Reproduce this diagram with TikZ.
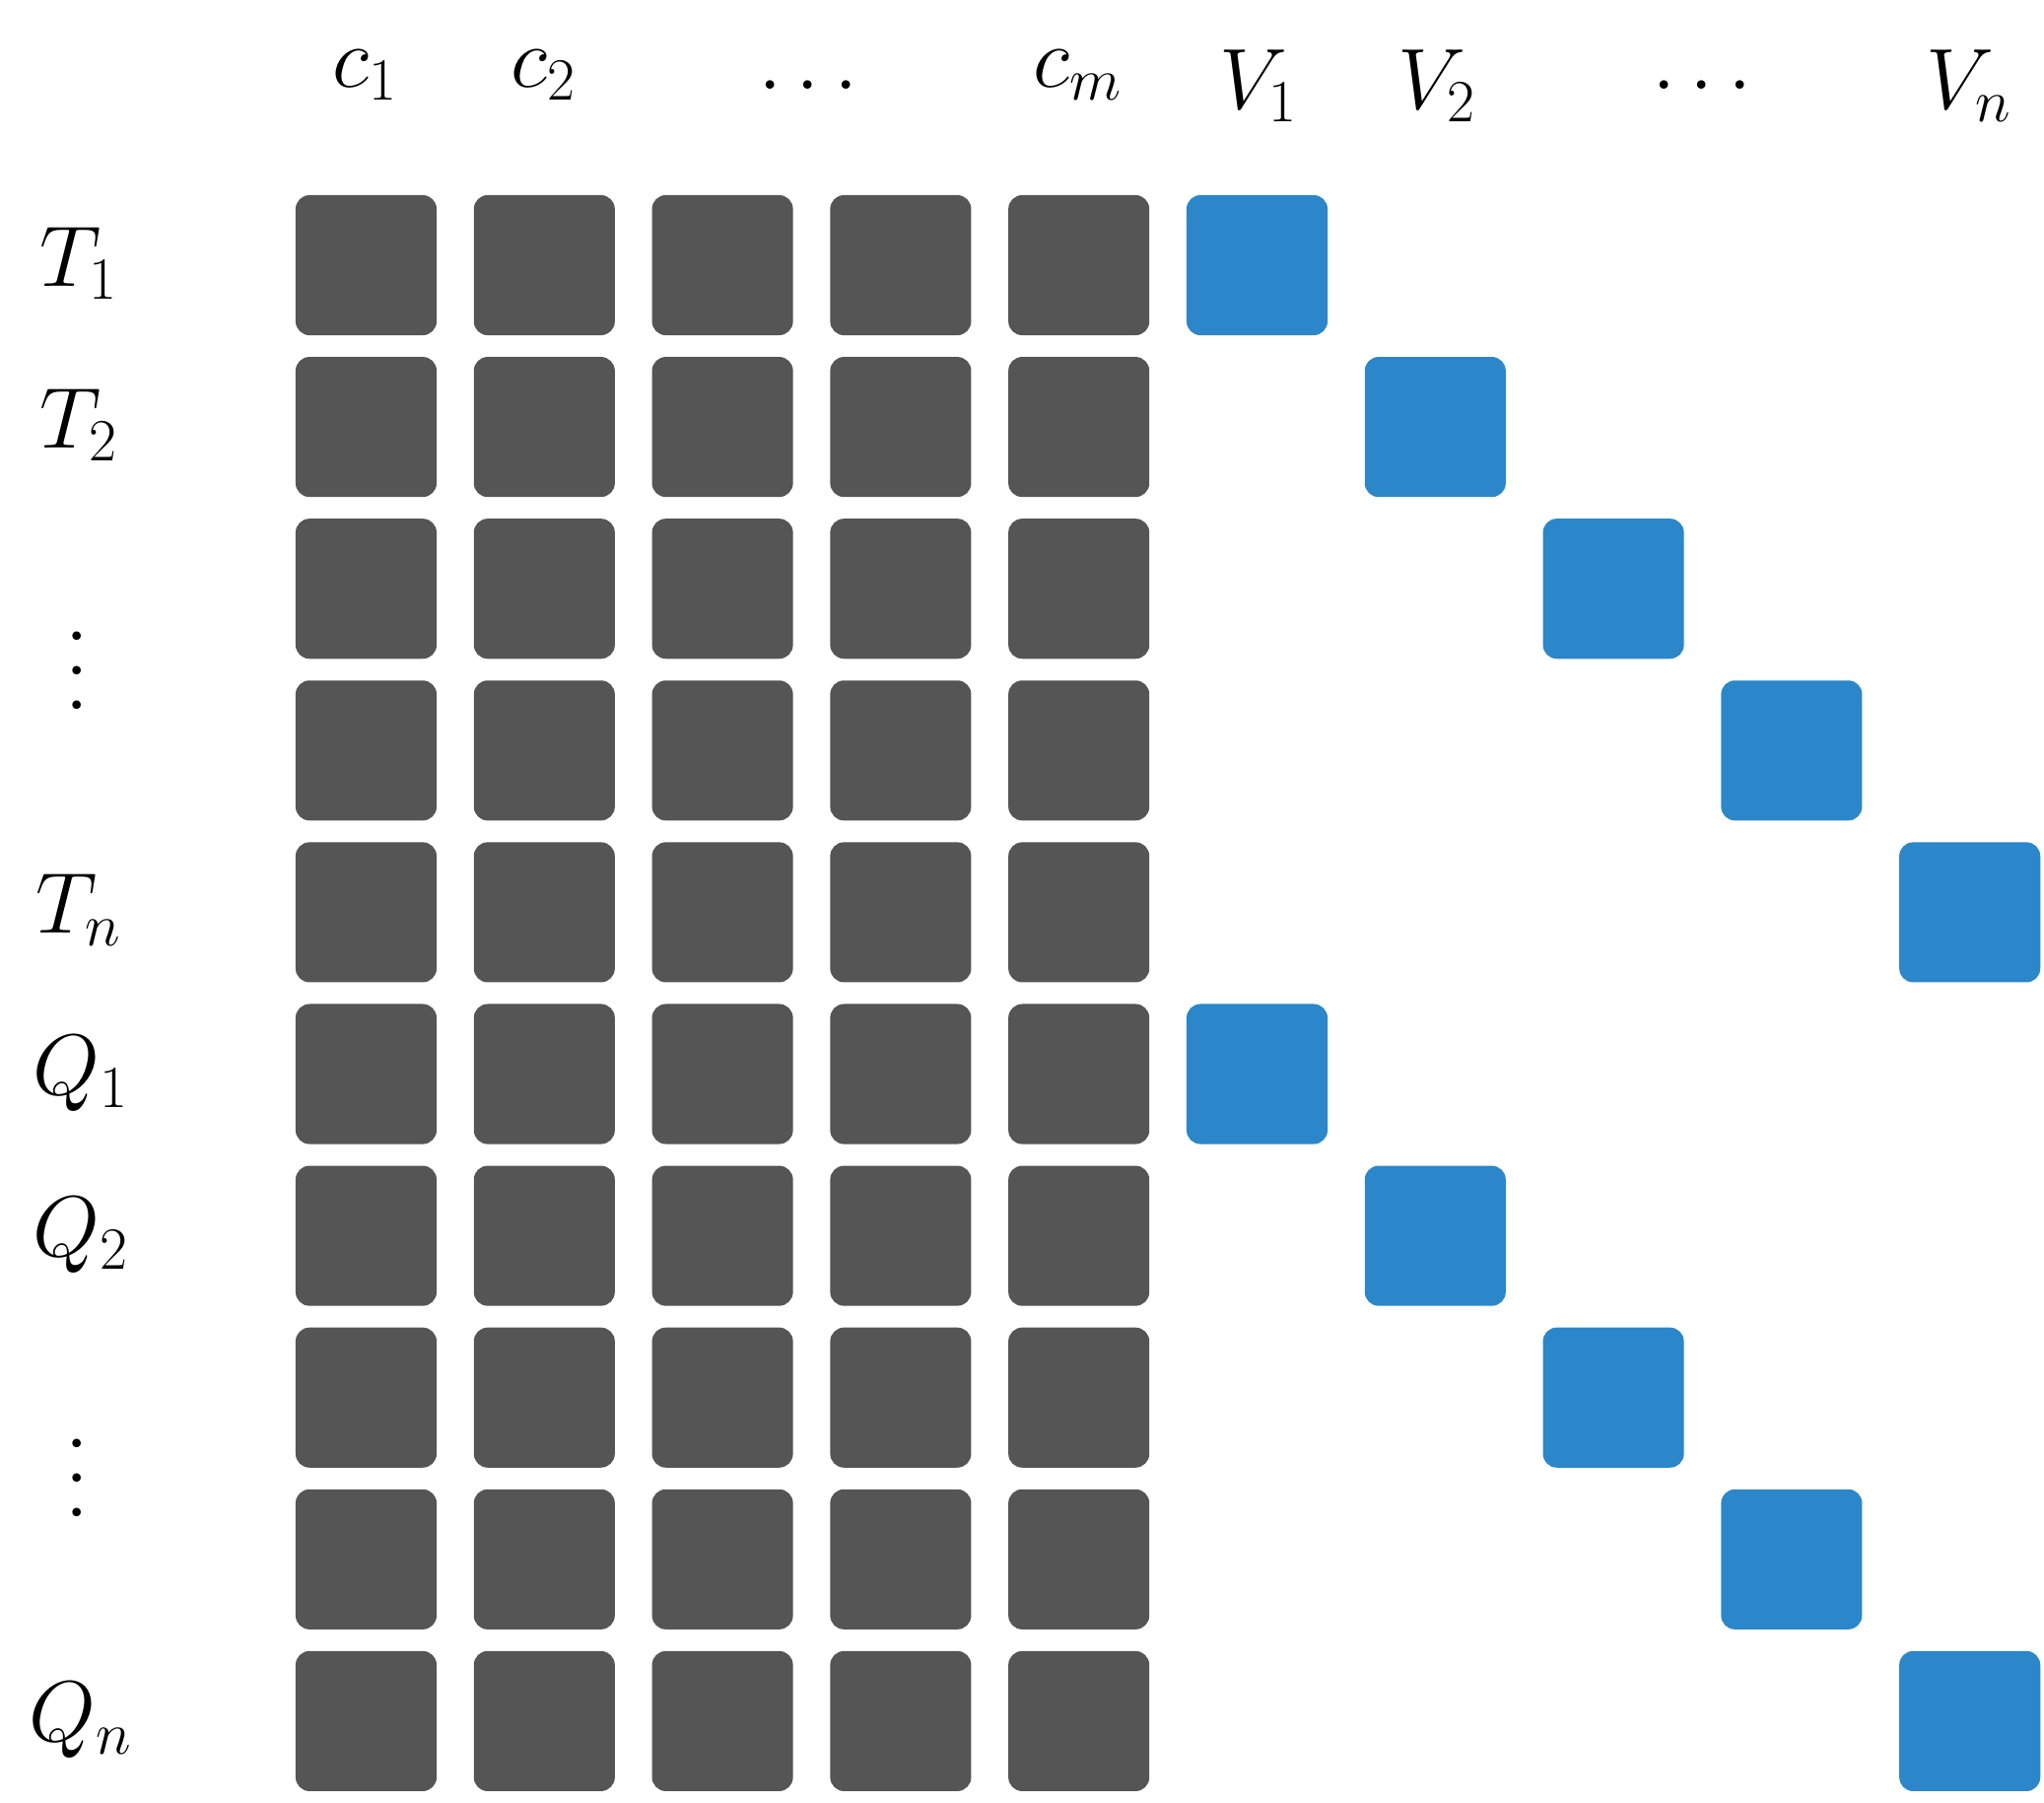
\documentclass[tikz,border=0pt]{standalone}
\definecolor{cellgray}{HTML}{555555}
\definecolor{cellblue}{HTML}{2B87C9}
\newcommand{\dotrow}[1]{.\kern#1.\kern#1.}
\begin{document}
\begin{tikzpicture}[x=0.01cm, y=-0.01cm,
  font=\fontsize{27}{32}\selectfont,
  cell/.style={rounded corners=4pt, minimum width=1.43cm,
               minimum height=1.42cm, inner sep=0pt, fill=#1},
  lbl/.style={anchor=base, inner sep=0pt},
  dots/.style={inner sep=0pt, font=\fontsize{30}{36}\selectfont}
]
  \useasboundingbox (0,0) rectangle (2074,1829);

  % column headers
  \node[lbl] (hc1) at (371,88) {$c_1$};
  \node[lbl] (hc2) at (552,88) {$c_2$};
  \node[lbl, dots, anchor=base] (hcd) at (820,90) {\dotrow{3.5pt}};
  \node[lbl] (hcm) at (1094,88) {$c_m$};
  \node[lbl] (hv1) at (1277,110) {$V_1$};
  \node[lbl] (hv2) at (1458,110) {$V_2$};
  \node[lbl, dots, anchor=base] (hvd) at (1727,90) {\dotrow{3.5pt}};
  \node[lbl] (hvn) at (1998,110) {$V_n$};

  % row headers
  \node[lbl] (rt1) at (80,290) {$T_1$};
  \node[lbl] (rt2) at (80,454) {$T_2$};
  \node[dots] (rtd) at (78,680) {\rotatebox{90}{\dotrow{2.5pt}}};
  \node[lbl] (rtn) at (80,946) {$T_n$};
  \node[lbl] (rq1) at (82,1110) {$Q_1$};
  \node[lbl] (rq2) at (82,1274) {$Q_2$};
  \node[dots] (rqd) at (78,1499) {\rotatebox{90}{\dotrow{2.5pt}}};
  \node[lbl] (rqn) at (82,1766) {$Q_n$};

  % feature block
  \foreach \r in {1,...,10}
    \foreach \c in {1,...,5}
      \node[cell=cellgray] (g-\r-\c)
        at ({371.5+180.8*(\c-1)}, {269+164.1*(\r-1)}) {};

  % one-hot block
  \foreach \r [evaluate=\r as \c using {int(6+mod(\r-1,5))}] in {1,...,10}
    \node[cell=cellblue] (v-\r)
      at ({371.5+180.8*(\c-1)}, {269+164.1*(\r-1)}) {};
\end{tikzpicture}
\end{document}
